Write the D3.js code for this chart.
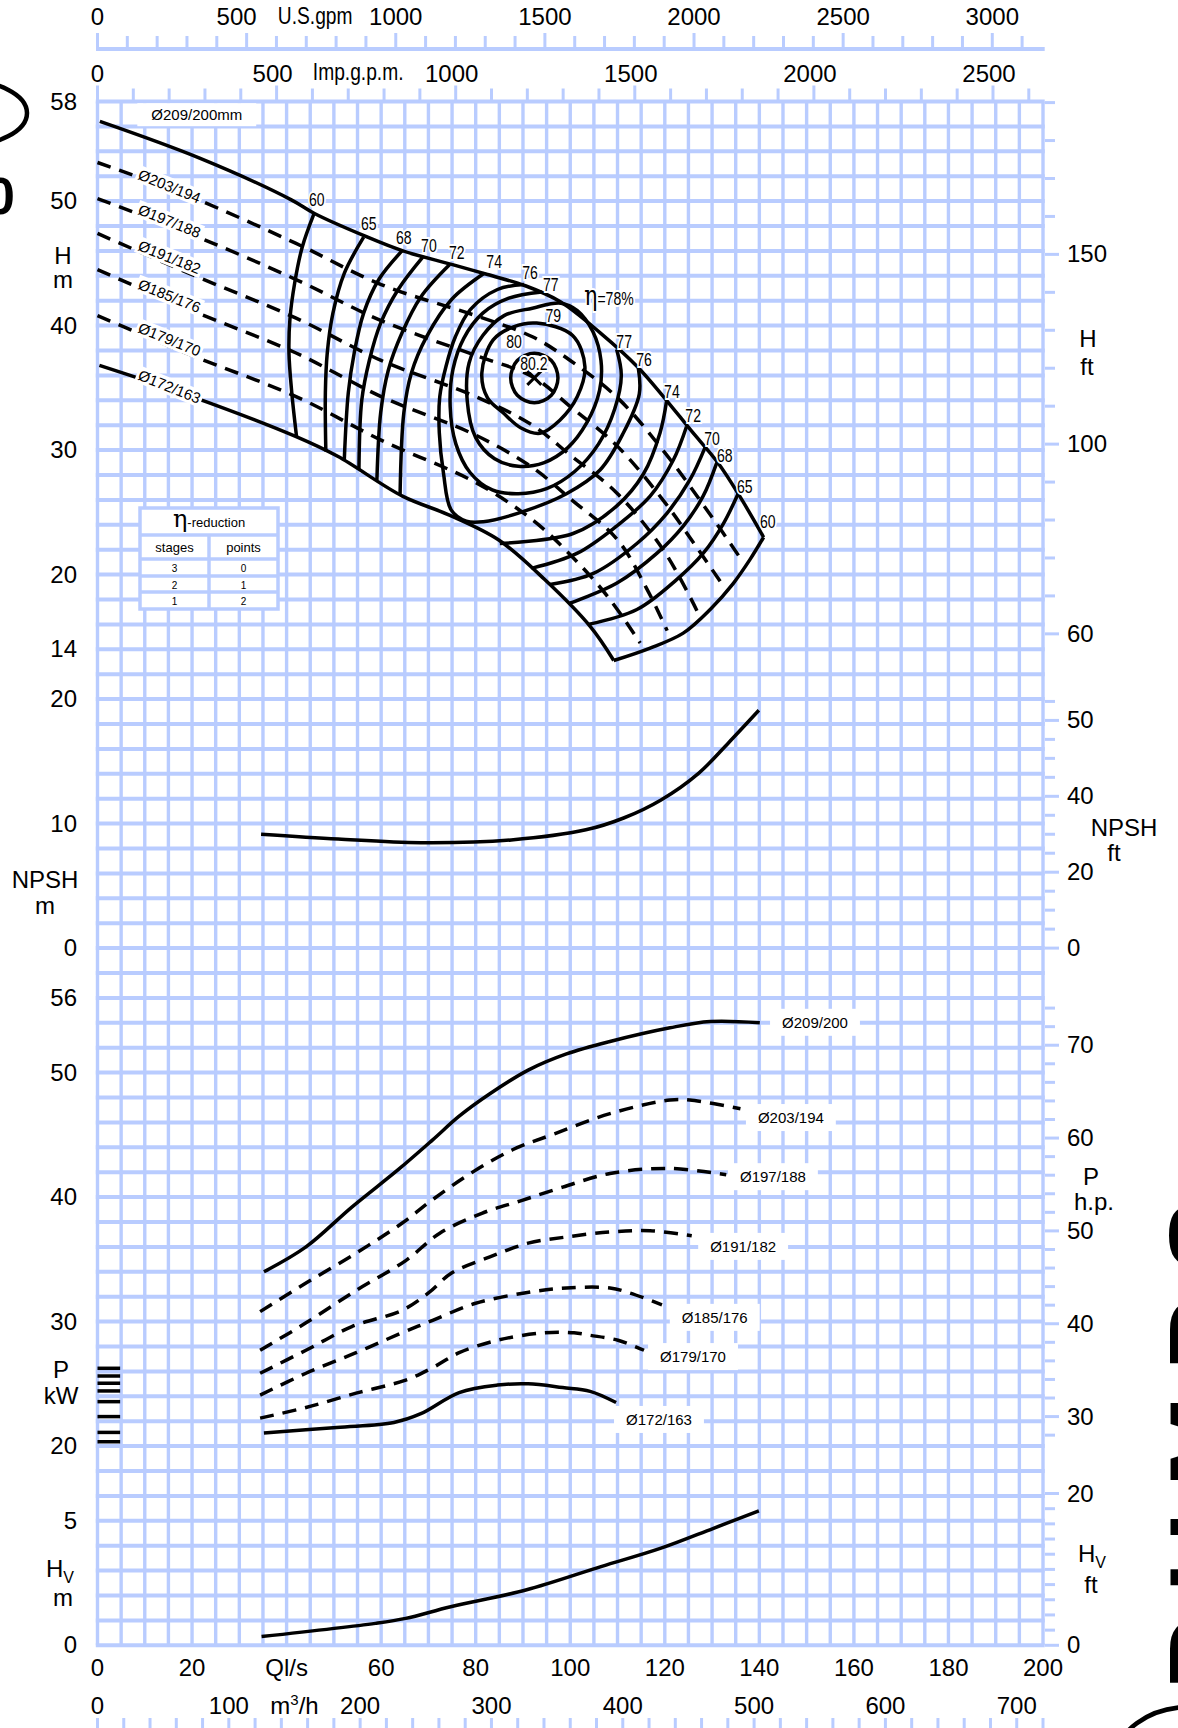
<!DOCTYPE html>
<html>
<head>
<meta charset="utf-8">
<script src="https://cdn.jsdelivr.net/npm/d3@7"></script>
<style>
  body { margin: 0; background: #fff; }
  svg { display: block; }
</style>
</head>
<body>
<svg id="chart" width="1178" height="1728"></svg>
<script>
(function () {
  'use strict';

  const GRID = '#b9ccff';
  const INK  = '#000';
  const FONT = '"Liberation Sans",Arial,sans-serif';
  const NARROW = 0.8;   // squeeze for the condensed unit words

  // ---- tick labels ----
  const qLabels    = [0, 20, 40, 60, 80, 100, 120, 140, 160, 180, 200];
  const m3hLabels  = [0, 100, 150, 200, 300, 400, 500, 600, 700];
  const usLabels   = [0, 500, 750, 1000, 1500, 2000, 2500, 3000];
  const impLabels  = [0, 500, 750, 1000, 1500, 2000, 2500];
  const hLabels    = [58, 50, 40, 30, 20, 14];
  const npshLabels = [20, 10, 0];
  const pLabels    = [56, 50, 40, 30, 20];
  const hvLabels   = [5, 0];
  const hFtTicks    = [150, 100, 50];
  const hFtText     = ['150', '100', '60'];
  const npshFtTicks = [60, 40, 20, 0];
  const npshFtText  = ['50', '40', '20', '0'];
  const hpTicks     = [70, 60, 50, 40, 30];
  const hvFtTicks   = [20, 0];

  // ---- head curves [Q l/s, H m] ----
  const diaNames = ['Ø209/200', 'Ø203/194', 'Ø197/188', 'Ø191/182', 'Ø185/176', 'Ø179/170', 'Ø172/163'];
  const diaDashed = [false, true, true, true, true, true, false];
  const head209 = [[0.5,56.4],[21.6,53.45],[41,50.1],[45.9,49.0],[56.5,47.2],[64.6,46.0],[75.1,44.9],[82.5,44.1],[90.5,43.2],[98,41.9],[106.4,39.4],[114.2,36.7],[119.7,34.3],[125.5,31.6],[131.2,29.0],[136,26.2],[140.9,23.0]];
  const head203 = [[0,53.1],[20,50.3],[42,46.6],[60,43.3],[80,40.8],[92,39.1],[100,37.2],[110,34.2],[120,29.8],[130,24.6],[136.2,21.2]];
  const head197 = [[0,50.2],[20,47.3],[42,43.7],[60,40.4],[80,37.6],[92,35.9],[100,33.5],[110,30.3],[120,25.8],[126,22.6],[132,19.3]];
  const head191 = [[0,47.4],[20,44.1],[42,40.6],[60,37.2],[80,34.3],[92,32.0],[100,29.6],[110,26.5],[120,21.8],[126.8,17.1]];
  const head185 = [[0,44.5],[20,41.2],[42,37.8],[60,34.3],[80,31.2],[92,28.6],[100,26.1],[110,22.8],[116,19.0],[120.5,15.5]];
  const head179 = [[0,40.8],[20,37.6],[42,34.3],[60,30.8],[80,27.4],[92,24.4],[100,21.6],[108,18.2],[114.8,14.5]];
  const head172 = [[0.4,36.8],[20,34.3],[41.9,31.1],[50.8,29.5],[64.5,26.3],[74.3,24.8],[84.8,22.8],[94.6,19.6],[104.3,15.8],[109.2,13.1]];
  const headCurves = [head209, head203, head197, head191, head185, head179, head172];
  const headLabelPos = [[21, 56.9], [14.8, 51.2], [14.8, 48.4], [14.8, 45.5], [14.8, 42.4], [14.8, 38.9], [14.8, 35.1]];

  // ---- efficiency iso-lines [Q, H] ----
  const eff60L = [[45.8,49.0],[43.3,46.3],[41.7,43.4],[40.7,40.5],[40.5,37.8],[41.1,34.6],[42.1,31.1]];
  const eff65L = [[56.3,47.1],[52.2,44.2],[49.8,41.0],[48.6,37.8],[48.2,34.6],[48.3,29.9]];
  const eff68L = [[64.4,46.0],[59.5,43.7],[56.3,41.0],[54.3,37.8],[53.05,34.6],[52.2,29.2]];
  const eff70L = [[68.8,45.5],[63.6,42.9],[59.9,40.2],[57.5,37.2],[55.9,34.0],[55.3,28.4]];
  const eff72L = [[74.5,44.9],[68.4,42.3],[64.4,39.4],[61.5,36.4],[59.9,33.0],[59.1,27.6]];
  const eff74L = [[81.8,44.2],[74.9,42.1],[69.6,39.1],[66.4,36.2],[64.8,33.0],[64.0,26.4]];
  const eff60R = [[140.9,23.0],[138.0,21.2],[134.5,19.3],[129.6,17.2],[123.9,15.3],[116.9,14.1],[109.2,13.1]];
  const eff65R = [[135.5,26.5],[132.4,24.1],[128.1,21.7],[122.5,19.6],[114.1,17.2],[103.8,16.0]];
  const eff68R = [[131.0,29.0],[128.1,26.3],[123.9,23.9],[118.3,21.7],[109.8,19.3],[99.9,17.7]];
  const eff70R = [[128.5,30.2],[125.3,27.6],[120.4,24.9],[114.1,22.5],[104.9,20.1],[95.7,19.2]];
  const eff72R = [[124.6,31.9],[121.8,29.2],[116.9,26.3],[109.8,23.9],[101.4,21.7],[91.8,20.5]];
  const eff74R = [[120.4,34.0],[119,31.4],[115.5,28.1],[109.8,25.5],[100.6,23.3],[85.1,22.5]];
  const eff76  = [[90.2,43.3],[84.6,42.9],[78.9,41.3],[75.7,39.1],[73.7,36.7],[72.4,34.3],[72.3,31.4],[73.2,28.1],[74.8,25.2],[78,24.3],[81.6,24.25],[88.7,24.9],[99.2,26.5],[106.3,28.4],[111.2,31.35],[114.6,34.5],[114.4,36.6]];
  const eff77  = [[94,42.7],[87,42.2],[81.5,41],[77.5,39],[75.2,36.5],[74.6,33.5],[75.8,30.5],[78.8,28.2],[83.5,26.8],[89,26.5],[95,26.9],[101,28.3],[106,30.5],[109.4,33.3],[110.8,36],[109.8,38.1]];
  const effOpen = [eff60L, eff65L, eff68L, eff70L, eff72L, eff74L, eff60R, eff65R, eff68R, eff70R, eff72R, eff74R, eff76, eff77];
  const eff78  = [[98,41.8],[92,41.4],[86,40.8],[81.5,39.2],[78.6,37],[78.2,34],[80,31],[84,29.3],[89,28.7],[94.5,29],[99.5,30.2],[103.5,32.2],[106.2,34.8],[106.5,37.2],[104.8,39.5],[101.5,41.2]];
  const eff79  = [[92.9,40.2],[88.0,39.9],[83.7,38.85],[81.3,36.2],[82.5,34.2],[85.8,33.0],[89.5,31.8],[93.6,31.35],[97.8,32.4],[101.5,34.3],[103.1,36.7],[100.5,39.2]];
  const eff80  = [[92.4,37.77],[96,37.2],[97.4,35.8],[96,34.4],[92.4,33.8],[88.8,34.4],[87.4,35.8],[88.8,37.2]];
  const effClosed = [eff78, eff79, eff80];
  const bep = [92.4, 35.8];   // best efficiency point, 80.2 %
  const effLabels = ['60','65','68','70','72','74','76','77','79','80','80.2','77','76','74','72','70','68','65','60'];
  const effLabelPos = [[46.4,50.1],[57.4,48.2],[64.8,47.0],[70.1,46.4],[76.0,45.8],[83.9,45.1],[91.5,44.2],[95.9,43.3],[96.4,40.8],[88.1,38.7],[92.3,36.9],[111.4,38.7],[115.6,37.2],[121.5,34.7],[126,32.7],[130,30.9],[132.7,29.5],[136.9,27.0],[141.8,24.2]];
  const eta78Pos = [108.2, 42.1];

  // ---- NPSH [Q, m] ----
  const npsh = [[34.6,9.15],[50.9,8.76],[68.4,8.47],[87.5,8.69],[103.3,9.5],[111.3,10.45],[119.2,11.9],[127.2,14.06],[133.5,16.5],[139.9,19.1]];

  // ---- power [Q, kW] ----
  const pow209 = [[35.2,34.0],[44.1,36.0],[53.8,39.2],[63.6,42.2],[70.9,44.6],[76.5,46.5],[83.0,48.3],[91.1,50.2],[99.2,51.5],[108.4,52.5],[121.1,53.6],[129.6,54.1],[140.1,54.0]];
  const pow203 = [[34.4,30.8],[44.1,33.1],[54.7,35.5],[64.4,37.9],[70.9,39.8],[78.9,41.9],[87.8,43.8],[96.8,45.1],[108.4,46.7],[121.1,47.8],[125.3,47.8],[136,47.1]];
  const pow197 = [[34.4,27.7],[44.1,29.9],[54.7,32.5],[65.2,34.9],[72.4,37.1],[81.3,38.7],[89.5,39.7],[98.4,40.8],[108.4,41.9],[121.1,42.3],[133,41.8]];
  const pow191 = [[34.4,25.85],[44.1,27.7],[53.8,29.6],[64.4,30.9],[70.0,32.3],[74.9,33.9],[83.0,35.2],[91.1,36.3],[99.2,36.8],[108.4,37.2],[116.9,37.3],[125.7,36.9]];
  const pow185 = [[34.4,24.1],[44.1,25.85],[54.7,27.5],[64.4,29.1],[70.9,30.1],[79.8,31.45],[90.3,32.3],[99.2,32.7],[108.4,32.7],[112.6,32.3],[119.4,31.35]];
  const pow179 = [[34.4,22.25],[44.1,23.1],[54.7,24.25],[65.2,25.3],[70.9,26.3],[76.5,27.5],[84.6,28.5],[94.3,29.1],[100.8,29.1],[104.2,28.9],[110.1,28.5],[115.6,27.7]];
  const pow172 = [[35.2,21.05],[50.6,21.5],[62.7,21.9],[68.4,22.6],[76.5,24.3],[84.6,24.9],[91.1,25.0],[98.4,24.7],[104.2,24.4],[109.7,23.5]];
  const powCurves = [pow209, pow203, pow197, pow191, pow185, pow179, pow172];
  const powLabelPos = [[144.8,54.0],[139.7,46.35],[135.9,41.6],[129.6,36.0],[123.6,30.3],[119,27.15],[111.8,22.1]];
  const motorMarks = [26.25, 25.63, 25.05, 24.43, 23.57, 22.37, 21.1, 20.35];

  // ---- velocity head [Q, m] ----
  const hv = [[34.7,0.35],[58.8,0.88],[65.2,1.08],[74.7,1.55],[90.6,2.22],[106.5,3.16],[119.2,3.9],[130.3,4.7],[139.9,5.4]];

  // ---- scales ----
  const x   = d3.scaleLinear().domain([0, 200]).range([97.5, 1043]);
  const row = d3.scaleLinear().domain([0, 62]).range([101.5, 1645.3]);
  const yH  = d3.scaleLinear().domain([58, 14]).range([row(0), row(22)]);
  const yN  = d3.scaleLinear().domain([20, 0]).range([row(24), row(34)]);
  const yP  = d3.scaleLinear().domain([56, 20]).range([row(36), row(54)]);
  const yV  = d3.scaleLinear().domain([5, 0]).range([row(57), row(62)]);
  const FT = 0.3048, HP = 0.7457, USG = 0.0630902, IMP = 0.0757682, M3H = 1 / 3.6;
  const xR = x(200) + 2;

  const svg = d3.select('#chart');
  svg.append('rect').attr('width', 1178).attr('height', 1728).attr('fill', '#fff');

  // ---- grid ----
  const grid = svg.append('g').attr('stroke', GRID);
  grid.selectAll('.v').data(d3.range(0, 201, 5)).join('line')
    .attr('x1', d => x(d)).attr('x2', d => x(d))
    .attr('y1', row(0)).attr('y2', row(62)).attr('stroke-width', 3.4);
  grid.selectAll('.h').data(d3.range(0, 63)).join('line')
    .attr('x1', x(0) - 1.7).attr('x2', x(200) + 1.7)
    .attr('y1', d => row(d)).attr('y2', d => row(d)).attr('stroke-width', 4);

  // top axes
  const usLine = 49;
  grid.append('line').attr('x1', x(0) - 1.5).attr('x2', x(200) + 1.7)
    .attr('y1', usLine).attr('y2', usLine).attr('stroke-width', 4);
  grid.selectAll('.us').data(d3.range(0, 3101, 100)).join('line')
    .attr('x1', d => x(d * USG)).attr('x2', d => x(d * USG))
    .attr('y1', usLine).attr('y2', d => d % 500 ? usLine - 13 : usLine - 16).attr('stroke-width', 3);
  grid.selectAll('.imp').data(d3.range(0, 2601, 100)).join('line')
    .attr('x1', d => x(d * IMP)).attr('x2', d => x(d * IMP))
    .attr('y1', row(0)).attr('y2', d => d % 500 ? row(0) - 13 : row(0) - 16).attr('stroke-width', 3);
  // bottom m3/h ticks
  grid.selectAll('.m3').data(d3.range(0, 721, 20)).join('line')
    .attr('x1', d => x(d * M3H)).attr('x2', d => x(d * M3H))
    .attr('y1', 1718).attr('y2', 1730).attr('stroke-width', 3);

  // right-hand unit ticks
  function rightTicks(vals, ys, major) {
    grid.append('g').selectAll('line').data(vals).join('line')
      .attr('x1', xR).attr('x2', d => major.includes(d) ? xR + 14 : xR + 10)
      .attr('y1', d => ys(d)).attr('y2', d => ys(d)).attr('stroke-width', 3);
  }
  rightTicks(d3.range(50, 191, 10), d => yH(d * FT), hFtTicks);
  rightTicks(d3.range(0, 66, 5), d => yN(d * FT), npshFtTicks);
  rightTicks(d3.range(28, 75, 2), d => yP(d * HP), hpTicks);
  rightTicks(d3.range(0, 21, 2), d => yV(d * FT), hvFtTicks);

  // ---- text helpers ----
  function label(g, tx, ty, str, size, anchor, opts = {}) {
    const sx = opts.sx || 1, rot = opts.rotate || 0;
    return g.append('text')
      .attr('transform', `translate(${tx},${ty}) rotate(${rot}) scale(${sx},1)`)
      .attr('font-family', opts.family || FONT).attr('font-size', size)
      .attr('text-anchor', anchor || 'middle').attr('fill', INK).text(str);
  }
  function boxed(g, tx, ty, str, size, anchor, padX, padY, rotate) {
    const gg = g.append('g').attr('transform', `translate(${tx},${ty}) rotate(${rotate || 0})`);
    const bg = gg.append('rect').attr('fill', '#fff');
    const t = label(gg, 0, 0, str, size, anchor);
    const b = t.node().getBBox();
    bg.attr('x', b.x - padX).attr('y', b.y - padY)
      .attr('width', b.width + 2 * padX).attr('height', b.height + 2 * padY);
    return gg;
  }
  function halo(t) {
    return t.attr('stroke', '#fff').attr('stroke-width', 4).attr('paint-order', 'stroke');
  }

  const txt = svg.append('g');
  const AX = 24;

  // top axis labels
  usLabels.forEach(v => {
    if (v === 750) label(txt, x(v * USG) - 6, 24, 'U.S.gpm', AX, 'middle', { sx: NARROW });
    else label(txt, x(v * USG) - (v === 500 ? 10 : 0), 25, v, AX);
  });
  impLabels.forEach(v => {
    if (v === 750) label(txt, x(v * IMP) - 8, 80, 'Imp.g.p.m.', AX, 'middle', { sx: NARROW });
    else label(txt, x(v * IMP) - (v ? 4 : 0), 82, v, AX);
  });
  // bottom axis labels
  qLabels.forEach(v => label(txt, x(v), 1676, v === 40 ? 'Ql/s' : v, AX));
  m3hLabels.forEach(v => {
    if (v === 150) {
      const t = label(txt, x(v * M3H), 1714, 'm', AX);
      t.append('tspan').attr('dy', -9).attr('font-size', 15).text('3');
      t.append('tspan').attr('dy', 9).text('/h');
    } else label(txt, x(v * M3H), 1714, v, AX);
  });

  // left axis labels
  const LX = 77;
  hLabels.forEach(v => label(txt, LX, yH(v) + 8, v, AX, 'end'));
  npshLabels.forEach(v => label(txt, LX, yN(v) + 8, v, AX, 'end'));
  pLabels.forEach(v => label(txt, LX, yP(v) + 8, v, AX, 'end'));
  hvLabels.forEach(v => label(txt, LX, yV(v) + 8, v, AX, 'end'));
  // right axis labels
  const RX = 1067;
  hFtTicks.forEach((v, i) => label(txt, RX, yH(v * FT) + 8, hFtText[i], AX, 'start'));
  npshFtTicks.forEach((v, i) => label(txt, RX, yN(v * FT) + 8, npshFtText[i], AX, 'start'));
  hpTicks.forEach(v => label(txt, RX, yP(v * HP) + 8, v, AX, 'start'));
  hvFtTicks.forEach(v => label(txt, RX, yV(v * FT) + 8, v, AX, 'start'));

  // unit titles
  label(txt, 63, 264, 'H', AX); label(txt, 63, 288, 'm', AX);
  label(txt, 45, 888, 'NPSH', AX); label(txt, 45, 914, 'm', AX);
  label(txt, 61, 1378, 'P', AX); label(txt, 61, 1404, 'kW', AX);
  const hvl = label(txt, 60, 1577, 'H', AX);
  hvl.append('tspan').attr('dy', 6).attr('font-size', 16).text('V');
  label(txt, 63, 1606, 'm', AX);
  label(txt, 1088, 347, 'H', AX); label(txt, 1087, 375, 'ft', AX);
  label(txt, 1124, 836, 'NPSH', AX); label(txt, 1114, 861, 'ft', AX);
  label(txt, 1091, 1185, 'P', AX); label(txt, 1094, 1210, 'h.p.', AX);
  const hvr = label(txt, 1092, 1562, 'H', AX);
  hvr.append('tspan').attr('dy', 6).attr('font-size', 16).text('V');
  label(txt, 1091, 1593, 'ft', AX);

  // ---- eta-reduction table ----
  const tb = svg.append('g');
  const tL = 140, tR = 278, tM = 209, rows = [508, 535, 559, 576, 592, 609];
  tb.append('rect').attr('x', tL).attr('y', rows[0]).attr('width', tR - tL).attr('height', rows[5] - rows[0])
    .attr('fill', '#fff').attr('stroke', GRID).attr('stroke-width', 3.5);
  rows.slice(1, 5).forEach(r => tb.append('line').attr('x1', tL).attr('x2', tR).attr('y1', r).attr('y2', r)
    .attr('stroke', GRID).attr('stroke-width', 3.5));
  tb.append('line').attr('x1', tM).attr('x2', tM).attr('y1', rows[1]).attr('y2', rows[5])
    .attr('stroke', GRID).attr('stroke-width', 3.5);
  const et = label(tb, tM, 527, '', 13);
  et.append('tspan').attr('font-family', '"DejaVu Serif",serif').attr('font-size', 24).text('η');
  et.append('tspan').text('-reduction');
  label(tb, (tL + tM) / 2, 552, 'stages', 13);
  label(tb, (tM + tR) / 2, 552, 'points', 13);
  [['3', '0'], ['2', '1'], ['1', '2']].forEach((r, i) => {
    label(tb, (tL + tM) / 2, rows[i + 2] + 13, r[0], 10);
    label(tb, (tM + tR) / 2, rows[i + 2] + 13, r[1], 10);
  });

  // ---- curve generators ----
  const lineOf = ys => d3.line().x(d => x(d[0])).y(d => ys(d[1])).curve(d3.curveCatmullRom.alpha(0.5));
  const closedOf = ys => d3.line().x(d => x(d[0])).y(d => ys(d[1])).curve(d3.curveCatmullRomClosed.alpha(0.5));
  const marks = svg.append('g').attr('fill', 'none').attr('stroke', INK).attr('stroke-width', 3.5)
    .attr('stroke-linecap', 'butt').attr('stroke-linejoin', 'round');

  // diameter labels (white backgrounds first)
  const lab = svg.append('g');
  boxed(lab, x(headLabelPos[0][0]), yH(headLabelPos[0][1]) + 5, diaNames[0] + 'mm', 15, 'middle', 14, 3);
  diaNames.slice(1).forEach((n, i) => {
    const p = headLabelPos[i + 1];
    boxed(lab, x(p[0]), yH(p[1]) + 5, n, 15, 'middle', 2, 0, 22);
  });
  powCurves.forEach((c, i) => {
    const p = powLabelPos[i];
    boxed(lab, x(p[0]), yP(p[1]) + 5, diaNames[i], 15, 'start', 12, 5);
  });

  // efficiency lines
  effOpen.forEach(c => marks.append('path').attr('d', lineOf(yH)(c)));
  effClosed.forEach(c => marks.append('path').attr('d', closedOf(yH)(c)));
  // BEP cross
  const bx = x(bep[0]), by = yH(bep[1]);
  marks.append('path').attr('stroke-width', 3)
    .attr('d', `M${bx - 7},${by - 7}L${bx + 7},${by + 7}M${bx + 7},${by - 7}L${bx - 7},${by + 7}`);

  // head curves
  headCurves.forEach((c, i) => marks.append('path').attr('d', lineOf(yH)(c))
    .attr('stroke-dasharray', diaDashed[i] ? '14 9' : null));

  // npsh, power, hv
  marks.append('path').attr('d', lineOf(yN)(npsh));
  powCurves.forEach((c, i) => marks.append('path').attr('d', lineOf(yP)(c))
    .attr('stroke-dasharray', diaDashed[i] ? '14 9' : null));
  marks.append('path').attr('d', lineOf(yV)(hv));
  marks.selectAll('.mm').data(motorMarks).join('line')
    .attr('x1', x(0)).attr('x2', x(5) - 1).attr('y1', d => yP(d)).attr('y2', d => yP(d)).attr('stroke-width', 3.5);

  // efficiency labels with white halo
  const el = svg.append('g');
  effLabels.forEach((s, i) => {
    const p = effLabelPos[i];
    halo(label(el, x(p[0]), yH(p[1]) + 6, s, 18, 'middle', { sx: 0.78 }));
  });
  const e78 = halo(label(el, x(eta78Pos[0]), yH(eta78Pos[1]) + 6, '', 18, 'middle', { sx: 0.78 }));
  e78.append('tspan').attr('font-size', 28).attr('font-family', '"DejaVu Serif",serif').text('η');
  e78.append('tspan').text('=78%');

  // ---- cropped logo fragments at the page edges ----
  const deco = svg.append('g');
  deco.append('ellipse').attr('cx', -38).attr('cy', 113).attr('rx', 65).attr('ry', 33)
    .attr('fill', 'none').attr('stroke', INK).attr('stroke-width', 4.5);
  deco.append('text').attr('x', -14).attr('y', 214).attr('font-family', FONT)
    .attr('font-weight', 'bold').attr('font-size', 52).text('0');
  deco.append('text').attr('transform', 'translate(1246,1690) rotate(-90)')
    .attr('font-family', FONT).attr('font-weight', 'bold')
    .attr('font-size', 110).attr('letter-spacing', 25).text('PUMPS');
  deco.append('ellipse').attr('cx', 1190).attr('cy', 1762).attr('rx', 75).attr('ry', 55)
    .attr('fill', 'none').attr('stroke', INK).attr('stroke-width', 4.5);
})();
</script>
</body>
</html>
